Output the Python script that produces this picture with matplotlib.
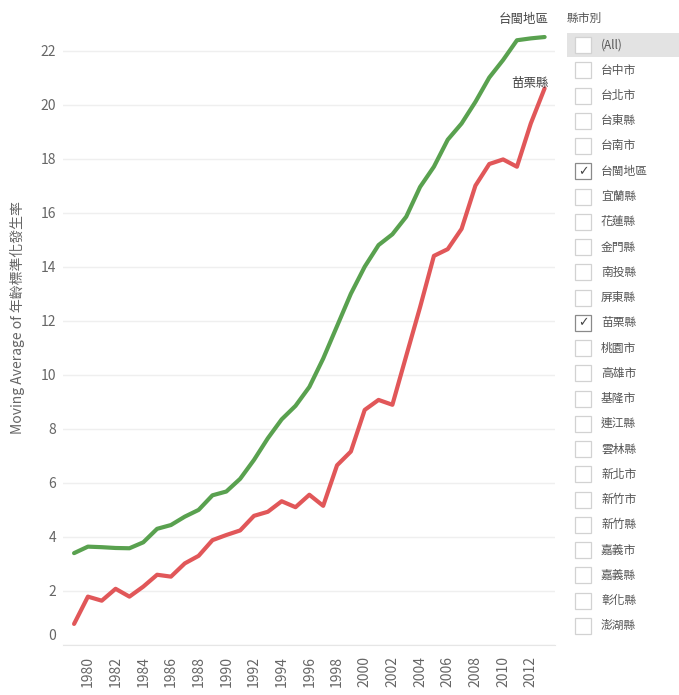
import matplotlib
matplotlib.use("Agg")
import matplotlib.pyplot as plt
import matplotlib.transforms as mtransforms
from matplotlib.patches import Rectangle

plt.rcParams['font.family'] = ['Noto Sans CJK TC', 'DejaVu Sans']

years = list(range(1979, 2014))
taiwan = [3.40, 3.64, 3.62, 3.59, 3.58, 3.80, 4.30, 4.44, 4.75, 5.00,
          5.54, 5.68, 6.15, 6.85, 7.65, 8.35, 8.85, 9.55, 10.6, 11.8,
          13.0, 14.0, 14.8, 15.2, 15.85, 16.95, 17.7, 18.7, 19.3, 20.1,
          21.0, 21.65, 22.38, 22.45, 22.5]
miaoli = [0.78, 1.79, 1.64, 2.08, 1.79, 2.16, 2.60, 2.53, 3.02, 3.30,
          3.88, 4.07, 4.24, 4.78, 4.93, 5.32, 5.10, 5.56, 5.15, 6.65,
          7.16, 8.70, 9.07, 8.89, 10.7, 12.5, 14.4, 14.65, 15.4, 17.0,
          17.8, 17.97, 17.7, 19.3, 20.6]
series_names = ['台閩地區', '苗栗縣']
xtick_years = list(range(1980, 2013, 2))
yticks = list(range(0, 23, 2))
ylabel = 'Moving Average of 年齡標準化發生率'
filter_title = '縣市別'
filter_items = ['(All)', '台中市', '台北市', '台東縣', '台南市', '台閩地區', '宜蘭縣',
                '花蓮縣', '金門縣', '南投縣', '屏東縣', '苗栗縣', '桃園市', '高雄市',
                '基隆市', '連江縣', '雲林縣', '新北市', '新竹市', '新竹縣', '嘉義市',
                '嘉義縣', '彰化縣', '澎湖縣']
checked = ['台閩地區', '苗栗縣']

W, H = 679, 695
fig = plt.figure(figsize=(W / 100, H / 100), dpi=100)
fig.patch.set_facecolor('white')
ax = fig.add_axes([63 / W, 1 - 645 / H, (555 - 63) / W, (645 - 10) / H])

green = '#59A14F'
red = '#E15759'
ax.plot(years, taiwan, color=green, lw=3.0, solid_capstyle='round', solid_joinstyle='round', zorder=3)
ax.plot(years, miaoli, color=red, lw=3.0, solid_capstyle='round', solid_joinstyle='round', zorder=3)

ax.annotate(series_names[0], (years[-1], taiwan[-1]), xytext=(3, 8), textcoords='offset points',
            ha='right', va='bottom', fontsize=9, color='#444444')
ax.annotate(series_names[1], (years[-1], miaoli[-1]), xytext=(3, -1), textcoords='offset points',
            ha='right', va='bottom', fontsize=9, color='#444444')

ax.set_xlim(1978.2, 2013.75)
ax.set_ylim(0, 23.5)
ax.set_yticks(yticks)
ax.set_yticklabels([str(v) for v in yticks])
ax.set_xticks(xtick_years)
ax.set_xticklabels([str(v) for v in xtick_years], rotation=90)
ax.tick_params(axis='both', length=0, labelsize=10, colors='#666666')
ax.tick_params(axis='y', pad=5)
ax.tick_params(axis='x', pad=8)
ax.grid(axis='y', color='#efefef', lw=1.0)
ax.set_axisbelow(True)
for s in ['top', 'right', 'left']:
    ax.spines[s].set_visible(False)
ax.spines['bottom'].set_color('#e6e6e6')
ax.set_ylabel(ylabel, fontsize=10, color='#666666')
ax.yaxis.set_label_coords((25 - 63) / (555 - 63), (645 - 318) / 635)

# shift the "0" tick label upward like the reference
lbl0 = ax.get_yticklabels()[0]
lbl0.set_transform(lbl0.get_transform() + mtransforms.ScaledTranslation(0, 11 / 100, fig.dpi_scale_trans))

# filter list
fig.text(567 / W, 1 - 18 / H, filter_title, fontsize=8.5, color='#555555', va='center', ha='left')
step = 25.25
y0 = 45
for i, name in enumerate(filter_items):
    yc = y0 + i * step
    if i == 0:
        fig.patches.append(Rectangle((567 / W, 1 - (yc + 12) / H), (W - 567) / W, 24 / H,
                                     transform=fig.transFigure, facecolor='#e3e3e3', edgecolor='none'))
    is_checked = name in checked
    fig.patches.append(Rectangle((575 / W, 1 - (yc + 8) / H), 16 / W, 16 / H,
                                 transform=fig.transFigure, facecolor='white',
                                 edgecolor='#8a8a8a' if is_checked else '#d2d2d2', lw=0.9))
    if is_checked:
        fig.text(583 / W, 1 - yc / H, '✓', fontsize=9, color='#444444', ha='center', va='center',
                 family=['DejaVu Sans'])
    fig.text(601 / W, 1 - yc / H, name, fontsize=8.5, color='#555555', ha='left', va='center')

fig.savefig('out.png', dpi=100, facecolor='white')
